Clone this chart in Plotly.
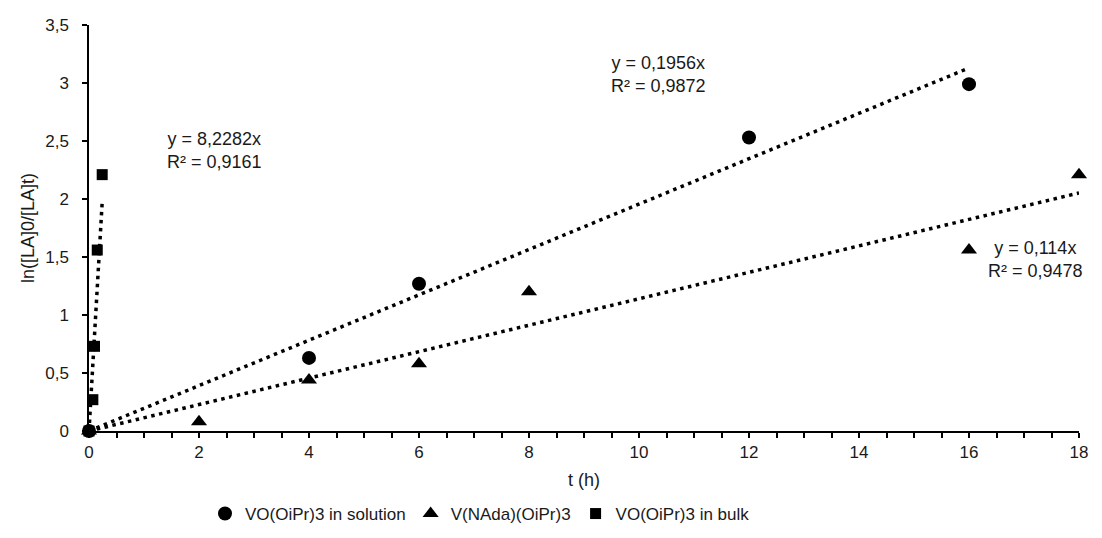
import plotly.graph_objects as go
import numpy as np

# Data
t_solution = [0, 4, 6, 12, 16]
y_solution = [0, 0.63, 1.27, 2.53, 2.99]

t_nada = [0, 2, 4, 6, 8, 16, 18]
y_nada = [0, 0.08, 0.44, 0.58, 1.20, 1.56, 2.21]

t_bulk = [0, 0.07, 0.1, 0.15, 0.24]
y_bulk = [0, 0.27, 0.73, 1.56, 2.21]

slope_solution = 0.1956
slope_nada = 0.114
slope_bulk = 8.2282

series_names = ["VO(OiPr)3 in solution", "V(NAda)(OiPr)3", "VO(OiPr)3 in bulk"]
eq_labels = ["y = 0,1956x<br>R² = 0,9872", "y = 0,114x<br>R² = 0,9478", "y = 8,2282x<br>R² = 0,9161"]

font_family = "Liberation Sans, Arial, sans-serif"
text_color = "#1a1a1a"
fs = 17
fs_big = 18

fig = go.Figure()

def trend(xs, slope):
    xx = np.array([0, max(xs)])
    return xx, slope * xx

for xs, slope in [(t_solution, slope_solution), (t_nada, slope_nada), (t_bulk, slope_bulk)]:
    tx, ty = trend(xs, slope)
    fig.add_trace(go.Scatter(x=tx, y=ty, mode="lines", showlegend=False, hoverinfo="skip",
                             line=dict(color="black", width=3.5, dash="3.5px,4.5px")))

fig.add_trace(go.Scatter(x=t_solution, y=y_solution, mode="markers", name=series_names[0],
                         cliponaxis=False,
                         marker=dict(symbol="circle", size=14, color="black")))
fig.add_trace(go.Scatter(x=t_nada, y=y_nada, mode="markers", name=series_names[1],
                         cliponaxis=False,
                         marker=dict(symbol="triangle-up", size=14, color="black")))
fig.add_trace(go.Scatter(x=t_bulk, y=y_bulk, mode="markers", name=series_names[2],
                         cliponaxis=False,
                         marker=dict(symbol="square", size=11, color="black")))

ann_font = dict(family=font_family, size=fs_big, color=text_color)
fig.add_annotation(x=10.35, y=3.07, xref="x", yref="y", text=eq_labels[0],
                   showarrow=False, align="center", font=ann_font)
fig.add_annotation(x=17.2, y=1.48, xref="x", yref="y", text=eq_labels[1],
                   showarrow=False, align="center", font=ann_font)
fig.add_annotation(x=2.29, y=2.42, xref="x", yref="y", text=eq_labels[2],
                   showarrow=False, align="center", font=ann_font)

fig.update_layout(
    width=1102, height=538,
    margin=dict(l=81, r=31, t=17, b=115, autoexpand=False),
    plot_bgcolor="white", paper_bgcolor="white",
    separators=", ",
    font=dict(family=font_family, size=fs, color=text_color),
    legend=dict(orientation="h", x=472 / 1102, xanchor="center", xref="container",
                y=1 - 506 / 538, yanchor="middle", yref="container",
                font=dict(size=fs), itemwidth=30, tracegroupgap=0, bgcolor="rgba(0,0,0,0)"),
    xaxis=dict(range=[0, 18], tickmode="linear", tick0=0, dtick=2, automargin=False,
               showgrid=False, zeroline=False, showline=True, linecolor="black", linewidth=1.5,
               ticks="outside", ticklen=5, tickcolor="black", tickwidth=1.5,
               minor=dict(dtick=0.5, ticks="outside", ticklen=5, tickcolor="black", tickwidth=1.5, showgrid=False),
               title=dict(text="t (h)", standoff=12, font=dict(size=fs_big))),
    yaxis=dict(range=[0, 3.5], tickmode="linear", tick0=0, dtick=0.5, automargin=False,
               showgrid=False, zeroline=False, showline=True, linecolor="black", linewidth=1.5,
               ticks="outside", ticklen=5, tickcolor="black", tickwidth=1.5,
               ticklabelstandoff=10,
               title=dict(text="ln([LA]0/[LA]t)", standoff=6, font=dict(size=fs_big))),
)

fig.write_html("out.html")
